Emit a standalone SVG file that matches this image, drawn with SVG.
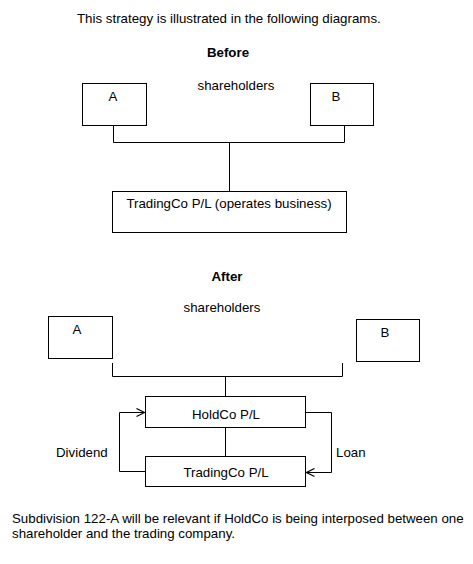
<svg xmlns="http://www.w3.org/2000/svg" width="473" height="564" viewBox="0 0 473 564">
<style>
text{font-family:"Liberation Sans",Arial,sans-serif;font-size:13.3px;fill:#000}
.b{font-weight:bold}
.m{text-anchor:middle}
.box{fill:#fff;stroke:#000;stroke-width:1}
.ln{fill:none;stroke:#000;stroke-width:1}
</style>
<defs>
<marker id="chev" viewBox="0 0 10 10" refX="9" refY="5" markerWidth="10" markerHeight="10" markerUnits="userSpaceOnUse" orient="auto">
<path d="M1,1 L9,5 L1,9" fill="none" stroke="#000" stroke-width="1.2"/>
</marker>
</defs>
<rect width="473" height="564" fill="#fff"/>
<text x="77" y="23">This strategy is illustrated in the following diagrams.</text>
<text class="b m" x="228" y="57">Before</text>
<text class="m" x="236" y="90">shareholders</text>
<g id="connectors">
<path class="ln" d="M113.5,125 V142.5 H344.5 V125 M229.5,142.5 V191"/>
<path class="ln" d="M112.5,363 V376.5 H342.5 V363 M225.5,376.5 V396"/>
<path class="ln" d="M225.5,427 V456"/>
<path class="ln" d="M145,471.5 H119.5 V412.5 H144.5" marker-end="url(#chev)"/>
<path class="ln" d="M306,412.5 H331.5 V472.5 H306.5" marker-end="url(#chev)"/>
</g>
<g id="before-A"><rect class="box" x="82.5" y="83.5" width="64" height="42"/><text class="m" x="113" y="101">A</text></g>
<g id="before-B"><rect class="box" x="310.5" y="83.5" width="63" height="42"/><text class="m" x="336" y="101">B</text></g>
<g id="before-trading"><rect class="box" x="112.5" y="191.5" width="234" height="41"/><text class="m" x="229" y="208">TradingCo P/L (operates business)</text></g>
<text class="b m" x="227" y="281">After</text>
<text class="m" x="222" y="312">shareholders</text>
<g id="after-A"><rect class="box" x="48.5" y="316.5" width="64" height="42"/><text class="m" x="77" y="334">A</text></g>
<g id="after-B"><rect class="box" x="356.5" y="319.5" width="63" height="42"/><text class="m" x="385" y="337">B</text></g>
<g id="holdco"><rect class="box" x="145.5" y="396.5" width="160" height="31"/><text class="m" x="226" y="419">HoldCo P/L</text></g>
<g id="tradingco"><rect class="box" x="145.5" y="456.5" width="160" height="30"/><text class="m" x="226" y="477">TradingCo P/L</text></g>
<text x="56" y="457">Dividend</text>
<text x="336" y="457">Loan</text>
<text x="12" y="523">Subdivision 122-A will be relevant if HoldCo is being interposed between one</text>
<text x="12" y="538">shareholder and the trading company.</text>
</svg>
